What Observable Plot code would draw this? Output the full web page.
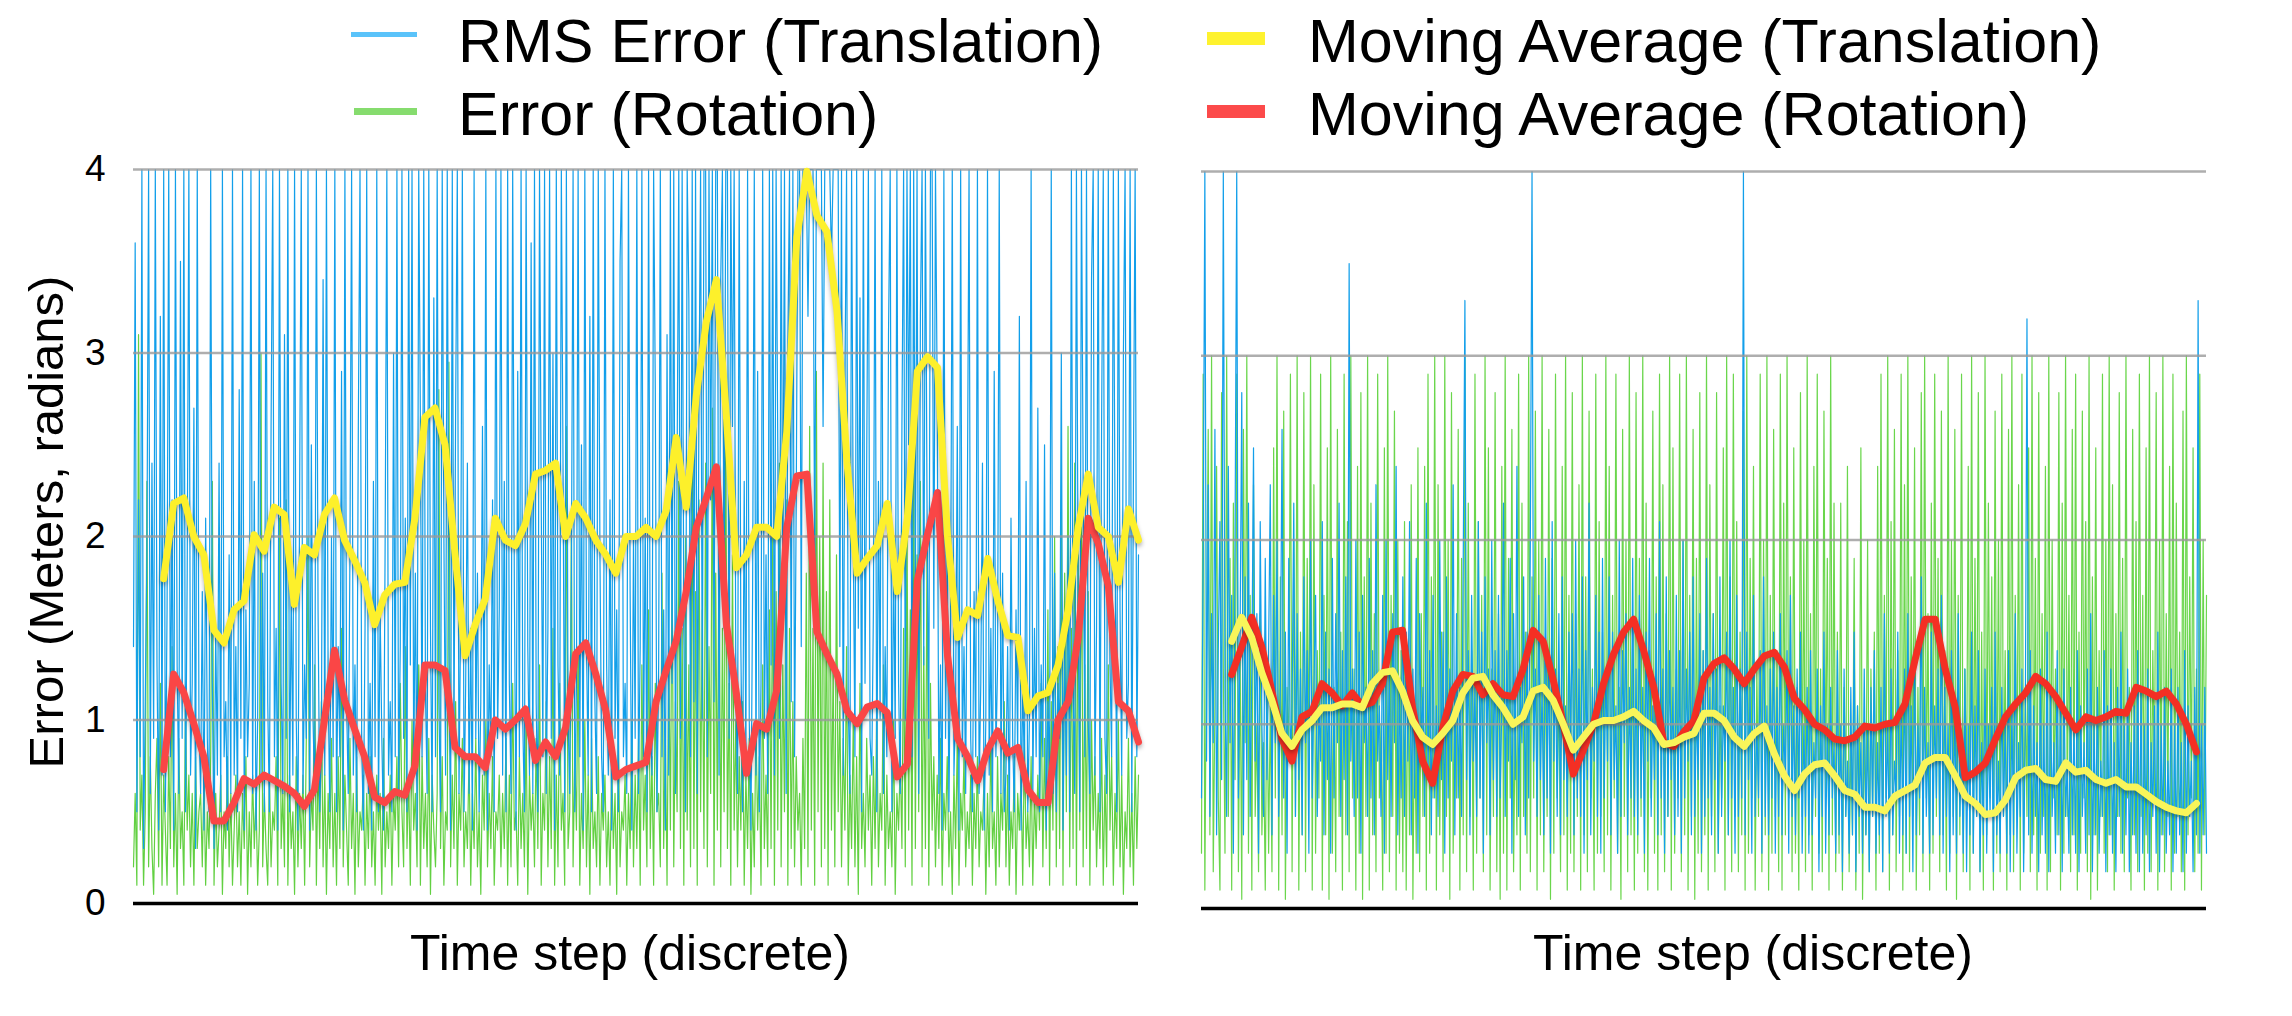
<!DOCTYPE html>
<html><head><meta charset="utf-8">
<script src="https://cdn.jsdelivr.net/npm/d3@7"></script>
<script src="https://cdn.jsdelivr.net/npm/@observablehq/plot@0.6"></script>
<style>
html,body{margin:0;padding:0;background:#fff;}
#root{position:relative;width:2292px;height:1016px;overflow:hidden;background:#fff;}
</style></head><body><div id="root"></div><script>
// ---------- DATA ----------
// Left panel: RMS translation error (blue), rotation error (green)
const transLeft = [
1.4,3.6,0.5,2.2,0.8,4,0.3,1.1,1.9,4,0.6,2.4,0.9,4,1.3,0.4,3.2,0.7,4,0.5,
1.6,4,0.8,2.2,0.4,4,1.3,0.6,3.5,0.9,4,0.5,1.8,4,0.7,1.2,2.7,0.3,4,1.0,
0.6,1.7,0.4,2.1,0.9,0.5,4,1.2,0.3,1.5,0.7,2.4,0.5,4,0.8,1.1,0.4,1.9,0.6,4,
0.7,1.4,0.5,2.8,0.9,4,0.4,1.6,0.8,1.2,4,0.6,2.3,0.4,1.0,4,0.7,1.8,0.5,4,
1.1,0.5,2.6,4,0.8,1.5,0.4,4,1.2,0.6,3.1,0.9,4,0.5,1.7,0.7,4,1.0,0.4,2.2,
4,0.6,1.3,0.9,4,0.4,2.5,1.0,0.6,4,1.6,0.5,0.9,3.4,0.7,4,1.2,0.5,2.0,0.8,
4,0.5,1.4,0.8,2.9,0.4,4,1.1,0.6,1.9,4,0.7,1.3,0.5,2.6,4,0.9,0.4,1.5,4,
0.6,1.2,0.4,2.3,0.8,4,0.5,1.6,0.9,0.4,2.0,4,0.7,1.1,0.5,3.0,0.8,4,0.6,1.4,
4,0.9,2.1,0.5,4,1.3,4,0.7,1.8,0.4,4,2.6,0.8,4,1.2,0.6,4,1.5,0.5,3.3,
0.8,4,1.1,0.5,4,2.0,0.7,4,1.4,0.4,4,0.9,2.7,4,0.6,1.6,4,0.5,1.2,2.4,
0.6,1.5,0.4,4,0.9,1.8,0.5,1.1,2.6,0.7,4,0.4,1.3,0.8,2.2,0.5,4,0.9,1.6,4,
0.7,2.3,0.5,4,1.2,0.6,4,1.7,0.4,2.9,0.8,4,1.0,0.5,4,1.4,0.7,3.6,0.6,4,
1.1,0.5,4,2.2,0.8,4,0.6,1.5,4,0.9,3.0,0.4,4,1.3,0.7,4,2.4,0.5,4,1.0,
0.6,1.8,4,0.5,1.2,4,0.8,2.5,0.4,4,1.4,0.7,3.2,0.5,4,1.1,0.6,4,1.9,0.8,
0.5,4,1.3,0.7,2.2,0.4,4,0.9,1.6,0.5,3.5,4,0.8,1.2,0.6,4,1.7,0.4,2.0,0.9,
4,0.6,1.4,4,0.8,2.1,0.5,4,1.1,0.7,4,2.8,0.5,1.3,4,0.8,1.6,0.4,3.1,0.7,
4,1.2,4,0.6,2.4,4,0.9,4,1.5,0.5,4,3.3,0.8,4,1.1,4,0.6,2.7,4,1.0,
4,4,0.8,4,2.2,4,1.1,4,4,0.7,3.4,4,1.5,4,4,0.9,4,2.6,4,1.2,
0.6,4,1.4,0.5,2.3,0.8,4,1.0,0.4,1.7,4,0.7,2.9,0.5,1.2,4,0.9,1.9,0.6,4,
1.3,4,0.7,4,2.5,0.9,4,1.6,4,0.6,3.0,4,1.1,4,0.8,2.2,4,4,1.4,4,
4,4,3.2,4,4,4,1.8,4,4,4,4,2.6,4,4,4,4,3.5,4,4,4,
4,1.4,4,0.7,2.8,4,1.1,0.6,4,2.0,0.8,4,1.5,3.3,0.5,4,1.2,2.4,4,0.9,
0.7,1.6,4,0.5,2.3,1.0,4,0.6,1.4,0.8,3.1,4,0.5,1.9,0.9,4,1.2,0.6,2.6,4,
1.0,4,2.5,4,0.8,4,1.7,4,0.6,3.2,4,1.3,4,2.1,0.9,4,4,1.5,4,2.8,
0.6,1.3,0.4,4,0.9,2.0,0.5,1.5,4,0.7,1.1,2.6,0.4,4,0.8,1.4,0.6,2.2,4,0.9,
0.5,1.7,0.8,4,0.6,1.2,2.4,0.4,1.0,4,0.7,1.5,0.5,2.9,0.8,1.3,4,0.6,1.8,0.5,
0.7,1.4,0.4,2.1,0.9,0.5,1.6,0.8,3.2,0.4,1.2,0.7,2.3,0.5,1.0,4,0.6,1.5,0.8,2.7,
0.5,1.3,0.8,2.5,0.4,1.1,0.7,4,0.6,1.8,0.5,1.2,0.9,3.0,0.4,1.4,0.7,2.0,0.5,4,
1.2,0.6,4,1.7,0.5,4,2.3,0.8,4,1.0,0.6,3.4,4,0.7,1.5,4,0.5,2.6,4,0.9,
0.6,4,1.3,0.8,4,2.1,0.5,4,1.6,0.7,3.0,4,0.9,1.2,4,0.5,2.4,4,0.8,1.9];
const rotLeft = [
0.2,0.6,0.1,3.1,0.4,0.7,0.1,0.5,2.3,0.2,0.8,0.3,0.05,0.6,0.9,0.2,1.2,0.1,0.7,0.4,
0.1,0.8,0.3,1.4,0.2,0.6,0.05,0.9,0.3,0.5,0.1,1.1,0.4,0.7,0.2,0.6,0.1,0.8,0.3,0.5,
0.6,0.2,0.7,0.1,0.5,0.3,0.8,2.3,0.1,0.6,0.2,0.4,0.7,0.05,0.5,0.3,0.8,0.2,0.6,0.1,
0.4,0.7,0.2,0.5,0.1,0.6,0.3,0.8,0.05,0.5,0.2,0.7,0.3,0.6,0.1,0.4,3.0,0.2,0.6,0.3,
0.1,0.7,0.2,0.5,0.4,0.8,0.1,2.1,0.3,0.6,0.2,2.2,0.1,0.7,0.3,0.5,0.05,0.8,0.2,0.6,
0.3,0.7,0.1,0.9,2.0,0.2,0.6,0.4,1.3,0.1,0.8,0.3,1.1,0.2,0.7,0.05,0.6,0.3,0.9,0.2,
0.6,0.1,0.8,0.3,1.5,0.2,0.7,0.4,0.1,0.9,0.3,0.6,0.05,0.8,0.2,0.5,0.4,0.7,0.1,0.6,
0.3,0.8,0.2,0.5,0.1,0.7,0.4,0.6,0.05,0.9,0.2,0.5,0.3,0.7,0.1,0.6,0.4,0.8,0.2,1.2,
0.5,0.2,1.4,0.3,0.7,0.1,1.0,0.4,0.6,0.2,1.3,0.1,0.8,0.3,0.6,0.2,0.9,0.05,0.7,0.4,
0.2,0.6,2.8,0.3,0.8,0.1,0.5,0.4,2.95,0.2,0.7,0.3,1.1,0.1,0.6,0.4,0.9,0.2,0.5,0.3,
0.8,0.1,0.6,0.3,0.9,0.2,0.5,0.05,0.7,0.4,1.0,0.2,0.6,0.3,0.8,0.1,0.5,0.4,0.7,0.2,
0.6,0.3,0.9,0.1,0.7,0.2,1.2,0.4,0.5,0.1,0.8,0.3,0.6,0.2,1.0,0.05,0.7,0.4,0.6,0.2,
0.9,0.3,1.3,0.1,0.6,0.4,1.1,0.2,0.8,0.3,1.5,0.1,0.7,0.2,1.2,0.4,0.6,0.1,2.6,0.3,
0.5,2.1,0.2,0.8,0.4,1.4,0.1,0.6,0.3,1.0,0.2,0.7,0.05,0.9,0.3,0.5,0.2,0.8,0.1,0.6,
0.4,0.7,0.2,0.5,0.1,0.8,0.3,0.6,0.05,0.9,0.2,0.5,0.4,0.7,0.1,0.6,0.3,1.0,0.2,0.7,
0.3,0.9,0.1,1.3,0.4,0.7,0.2,1.6,0.3,0.8,0.1,1.2,0.5,0.6,0.2,1.8,0.3,0.9,0.1,1.4,
0.4,1.9,0.2,1.1,0.5,2.3,0.3,1.5,0.1,2.0,0.4,1.3,0.2,2.5,0.3,1.7,0.1,2.2,0.5,1.6,
0.3,2.4,0.2,1.4,0.6,2.7,0.1,1.8,0.4,2.1,0.2,1.5,0.5,2.6,0.3,1.2,0.1,1.9,0.4,1.0,
0.2,0.8,0.4,1.1,0.1,0.7,0.3,0.9,0.05,0.6,0.2,1.0,0.4,0.8,0.1,1.3,0.3,0.7,0.2,1.6,
0.3,2.0,0.1,1.7,0.4,2.4,0.2,1.3,0.5,2.2,0.1,1.5,0.3,1.1,0.2,0.8,0.4,0.6,0.1,0.9,
0.3,1.8,0.2,2.6,0.4,1.5,0.1,2.9,0.5,2.0,0.2,2.4,0.3,1.7,0.1,2.2,0.4,1.3,0.2,1.9,
0.5,1.1,0.2,0.9,0.4,1.4,0.1,0.7,0.3,1.0,0.2,0.8,0.05,1.2,0.3,0.6,0.2,0.9,0.4,0.7,
0.1,0.8,0.3,1.1,0.2,0.6,0.4,1.3,0.1,0.7,0.3,0.5,0.2,1.0,0.05,0.6,0.4,0.8,0.3,1.5,
0.2,2.1,0.4,1.6,0.1,2.5,0.3,1.9,0.5,2.3,0.2,1.4,0.3,2.0,0.1,1.2,0.4,0.8,0.2,0.7,
0.3,0.9,0.1,0.6,0.4,0.8,0.2,0.5,0.05,0.7,0.3,0.9,0.1,0.6,0.4,0.8,0.2,0.5,0.3,0.7,
0.1,0.6,0.3,0.8,0.2,0.5,0.4,0.7,0.05,0.6,0.2,0.9,0.3,0.5,0.1,0.8,0.2,0.6,0.4,1.1,
0.2,0.7,0.1,0.5,0.3,0.8,0.05,0.6,0.4,0.7,0.1,0.9,0.3,0.5,0.2,0.8,0.1,0.6,0.3,0.7,
0.4,1.2,0.2,0.9,0.3,1.6,0.1,1.1,0.4,2.0,0.2,1.4,0.3,2.2,0.1,1.8,0.5,2.6,0.2,1.5,
0.3,2.4,0.1,1.9,0.4,2.2,0.2,1.3,0.3,1.7,0.1,1.0,0.4,0.8,0.2,0.6,0.3,0.9,0.1,0.7,
0.2,1.3,0.4,0.8,0.1,0.6,0.3,1.0,0.2,0.7,0.05,0.5,0.3,0.9,0.2,0.6,0.1,0.8,0.3,0.7];
// Right panel
const transRight = [
0.6,1.9,4,0.8,2.3,0.5,1.6,0.9,2.6,0.4,1.4,2.1,0.7,4,1.2,0.5,2.4,0.9,1.7,0.3,
2.0,4,0.6,1.5,2.8,0.4,1.8,0.7,2.2,0.5,1.3,2.5,0.8,1.6,0.3,2.1,1.0,0.5,1.9,0.7,
1.4,2.3,0.4,1.7,0.9,2.0,0.5,1.2,2.6,0.6,1.5,0.3,1.9,0.8,1.1,2.2,0.5,1.6,0.7,1.3,
0.4,1.8,0.9,1.4,0.3,2.0,0.6,1.2,1.7,0.5,1.1,0.8,2.1,0.4,1.5,0.7,1.3,0.3,1.9,0.6,
1.6,0.9,2.2,0.5,1.4,0.7,1.8,0.4,3.5,0.8,1.3,0.5,2.0,0.6,1.5,0.3,1.7,0.9,1.2,0.5,
1.9,0.6,1.4,0.4,2.3,0.8,1.1,0.5,1.7,0.3,2.0,0.7,1.3,0.5,1.6,0.9,2.4,0.4,1.2,0.6,
1.8,0.5,1.5,0.8,2.1,0.4,1.3,0.6,1.9,0.3,1.6,0.9,1.2,0.5,2.2,0.7,1.4,0.4,1.7,0.6,
1.1,0.5,2.0,0.7,1.5,0.3,1.8,0.6,1.3,0.8,2.3,0.4,1.6,0.6,1.2,0.5,1.9,3.3,0.7,1.4,
0.4,1.7,0.8,1.2,0.5,2.1,0.6,1.5,0.3,1.8,0.9,1.3,0.4,2.0,0.7,1.4,0.5,1.7,0.6,1.1,
2.2,0.5,1.4,0.8,1.9,0.3,1.6,0.7,2.4,0.5,1.2,0.9,1.8,0.4,1.5,0.6,2.0,4,0.8,1.3,
0.5,1.7,0.7,1.2,0.4,1.9,0.6,1.4,0.3,2.1,0.8,1.3,0.5,1.6,0.4,1.8,0.7,1.1,0.5,1.5,
0.9,1.6,0.4,2.0,0.6,1.3,0.5,1.8,0.3,1.4,0.7,2.2,0.4,1.2,0.8,1.7,0.5,1.5,0.3,1.9,
0.6,1.3,0.8,1.8,0.4,1.5,0.7,1.1,0.3,2.0,0.5,1.4,0.9,1.6,0.4,1.2,0.6,1.9,0.5,1.3,
0.4,1.7,0.6,1.2,0.3,1.5,0.8,1.9,0.5,1.1,0.7,1.6,0.4,2.1,0.6,1.3,0.3,1.8,0.5,1.4,
0.7,1.2,0.4,1.7,0.5,1.4,0.3,2.0,0.6,1.3,0.8,1.5,0.4,1.8,0.5,1.1,0.7,1.6,0.3,1.4,
0.5,1.9,0.6,1.2,0.4,1.6,0.7,1.3,0.3,1.8,0.5,1.1,0.8,1.5,0.4,2.0,0.6,1.2,0.3,1.7,
0.5,1.3,0.6,4,0.4,1.5,0.7,1.2,0.3,1.7,0.5,1.0,0.6,1.4,0.3,1.8,0.5,1.1,0.4,1.3,
0.6,1.5,0.3,1.2,0.5,1.6,0.4,1.0,0.7,1.4,0.3,1.7,0.5,1.1,0.4,1.3,0.6,1.5,0.3,1.0,
0.5,1.2,0.3,1.4,0.4,0.9,0.6,1.3,0.2,1.1,0.5,1.5,0.3,1.0,0.4,1.2,0.6,0.9,0.3,1.4,
0.4,1.0,0.2,1.3,0.5,0.8,0.3,1.2,0.4,1.5,0.2,1.1,0.5,0.9,0.3,1.3,0.4,1.0,0.2,1.2,
0.5,1.4,0.3,0.9,0.4,1.2,0.2,1.6,0.5,1.0,0.3,1.3,0.4,0.8,0.6,1.5,0.3,1.1,0.4,1.3,
0.3,1.6,0.5,1.1,0.2,1.4,0.4,1.0,0.6,1.8,0.3,1.2,0.5,0.9,0.3,1.5,0.4,1.1,0.6,1.3,
0.4,1.7,0.3,1.2,0.5,1.0,0.2,1.4,0.4,1.1,0.3,1.6,0.5,0.9,0.3,1.3,0.2,1.0,0.4,1.5,
0.3,1.1,0.5,1.4,0.2,0.9,0.4,1.3,0.3,1.0,0.5,1.2,0.2,1.5,0.4,0.8,0.3,1.2,0.5,1.0,
0.3,1.4,0.2,1.1,0.4,1.6,0.3,0.9,0.5,1.3,0.2,1.0,3.2,0.4,1.4,0.3,1.1,0.5,0.9,0.2,
1.3,0.4,1.0,0.3,1.5,0.2,1.2,0.5,0.9,0.3,1.4,0.4,1.1,0.2,1.3,0.5,0.8,0.3,1.2,0.4,
1.0,0.3,1.4,0.2,1.1,0.5,0.9,0.3,1.3,0.4,1.6,0.2,1.0,0.4,1.2,0.3,0.8,0.5,1.4,0.2,
1.1,0.4,1.3,0.3,0.9,0.2,1.2,0.5,1.5,0.3,1.0,0.4,1.3,0.2,0.9,0.4,1.1,0.3,1.4,0.2,
1.2,0.3,1.0,0.4,1.3,0.2,0.9,0.5,1.1,0.3,1.5,0.2,1.0,0.4,1.2,0.3,0.8,0.4,1.3,0.2,
1.0,0.3,1.2,0.4,0.9,0.2,1.4,0.3,1.1,0.5,0.8,0.2,1.2,0.4,3.3,0.3,1.0,0.4,1.2,0.3];
const rotRight = [
0.3,2.9,0.1,1.5,2.6,0.4,3.0,0.2,1.1,2.4,0.6,0.1,2.8,1.3,0.3,3.0,0.5,1.9,0.1,2.2,
0.7,2.9,0.2,1.4,0.05,2.6,0.9,3.0,0.3,1.7,0.1,2.3,0.5,1.0,0.2,1.6,0.4,0.9,0.1,1.3,
0.3,1.1,0.2,2.5,0.6,3.0,0.1,1.8,0.4,2.7,0.05,1.2,0.8,2.9,0.2,2.0,0.5,3.0,0.1,1.5,
0.4,2.8,0.2,1.9,0.7,3.0,0.1,2.3,0.3,1.4,0.6,2.9,0.1,1.7,0.4,2.5,0.05,3.0,0.3,1.2,
0.2,2.6,0.5,1.5,0.1,2.9,0.4,2.1,0.2,3.0,0.6,1.3,0.1,2.4,0.3,2.8,0.05,1.8,0.5,3.0,
0.1,2.2,0.4,1.6,0.2,2.9,0.6,1.0,0.1,2.5,0.3,3.0,0.2,1.7,0.5,2.7,0.1,2.0,0.3,1.4,
0.2,2.1,0.1,1.4,0.4,2.3,0.05,1.1,0.3,2.5,0.2,1.6,0.5,2.4,0.1,2.9,0.3,1.8,0.6,3.0,
0.1,2.3,0.4,1.5,0.2,3.0,0.5,2.0,0.05,2.8,0.3,1.2,0.6,2.6,0.1,1.9,0.4,3.0,0.2,2.2,
0.5,1.4,0.1,2.9,0.3,2.1,0.6,1.7,0.2,3.0,0.4,2.5,0.1,1.3,0.5,2.8,0.2,1.6,0.05,2.4,
0.3,3.0,0.1,1.9,0.6,2.6,0.2,1.1,0.4,2.9,0.1,2.2,0.5,1.5,0.3,3.0,0.2,1.8,0.6,2.7,
0.1,2.0,0.4,3.0,0.2,1.4,0.5,2.6,0.05,1.9,0.3,2.9,0.6,1.2,0.2,2.4,0.4,3.0,0.1,1.7,
0.3,2.8,0.2,1.6,0.5,2.3,0.1,3.0,0.4,1.8,0.2,2.7,0.6,1.3,0.1,2.9,0.3,2.1,0.5,1.5,
0.2,3.0,0.4,2.4,0.1,1.7,0.6,2.9,0.3,1.2,0.05,2.6,0.5,2.0,0.2,3.0,0.4,1.5,0.1,2.8,
0.3,1.9,0.5,3.0,0.2,2.2,0.1,1.4,0.6,2.7,0.3,1.8,0.1,2.9,0.4,2.3,0.2,1.6,0.5,3.0,
0.1,2.5,0.3,1.3,0.6,2.9,0.2,2.0,0.4,3.0,0.1,1.7,0.5,2.6,0.05,1.9,0.3,2.8,0.2,1.4,
0.4,3.0,0.1,2.3,0.5,1.6,0.2,2.8,0.3,1.1,0.6,2.5,0.1,3.0,0.4,1.8,0.2,2.9,0.5,2.1,
0.2,1.5,0.4,2.7,0.1,3.0,0.3,1.9,0.6,2.4,0.1,1.3,0.5,2.9,0.2,2.0,0.4,3.0,0.1,1.7,
0.3,2.6,0.5,1.4,0.2,2.9,0.1,2.2,0.4,3.0,0.6,1.8,0.2,2.5,0.3,1.2,0.1,2.8,0.5,2.0,
0.2,3.0,0.4,1.6,0.1,2.4,0.5,2.9,0.3,1.3,0.2,2.7,0.6,1.9,0.1,3.0,0.4,2.2,0.2,1.5,
0.3,2.2,0.1,1.2,0.5,2.4,0.2,0.9,0.4,1.9,0.1,1.1,0.3,2.5,0.05,1.0,0.4,2.0,0.2,1.3,
0.5,1.5,0.1,2.4,0.3,2.9,0.2,1.7,0.6,3.0,0.1,2.1,0.4,2.6,0.2,1.4,0.5,2.9,0.1,2.3,
0.3,3.0,0.2,1.8,0.5,2.5,0.1,1.2,0.4,2.8,0.2,3.0,0.6,1.6,0.1,2.2,0.3,2.9,0.5,1.9,
0.2,2.7,0.4,1.4,0.1,3.0,0.3,2.0,0.5,2.6,0.05,1.7,0.4,2.9,0.2,1.3,0.6,2.4,0.1,3.0,
0.3,1.9,0.5,2.8,0.2,1.5,0.1,3.0,0.4,2.2,0.6,1.8,0.1,2.7,0.3,2.0,0.2,2.9,0.5,1.4,
0.1,2.6,0.4,3.0,0.2,1.7,0.6,2.3,0.1,2.9,0.3,1.2,0.5,2.5,0.2,3.0,0.4,1.9,0.1,2.8,
0.3,1.6,0.5,2.4,0.1,3.0,0.2,2.0,0.6,1.3,0.4,2.8,0.1,2.2,0.3,3.0,0.5,1.7,0.2,2.6,
0.4,2.9,0.1,1.5,0.3,2.7,0.6,2.1,0.2,3.0,0.05,1.8,0.4,2.5,0.1,1.4,0.5,2.9,0.3,2.0,
0.2,3.0,0.4,2.3,0.1,1.6,0.5,2.8,0.3,1.9,0.2,3.0,0.6,1.2,0.1,2.6,0.4,2.1,0.2,2.9,
0.5,1.7,0.1,2.5,0.3,3.0,0.2,1.4,0.6,2.8,0.1,2.0,0.4,3.0,0.2,1.6,0.5,2.4,0.1,2.9,
0.3,2.2,0.5,1.5,0.2,2.7,0.1,3.0,0.4,1.8,0.6,2.5,0.2,1.3,0.3,2.9,0.1,2.0,0.4,1.7];

// Moving averages (time steps and values)
const maStepsLeft = d3.range(30, 1001, 10);
const maTransLeft = [
1.77,2.18,2.21,2.00,1.90,1.49,1.42,1.60,1.65,2.01,
1.92,2.16,2.12,1.63,1.94,1.90,2.12,2.21,1.98,1.87,
1.75,1.52,1.68,1.74,1.75,2.10,2.65,2.70,2.50,1.90,
1.35,1.52,1.66,2.10,1.98,1.95,2.07,2.34,2.36,2.40,
2.00,2.18,2.10,1.98,1.90,1.80,2.00,2.00,2.05,2.00,
2.14,2.54,2.16,2.77,3.17,3.40,2.65,1.83,1.90,2.05,
2.05,2.00,2.57,3.63,3.99,3.75,3.66,3.23,2.40,1.80,
1.88,1.95,2.18,1.70,2.10,2.90,2.98,2.92,2.00,1.45,
1.60,1.57,1.88,1.65,1.46,1.45,1.05,1.13,1.15,1.30,
1.60,2.05,2.34,2.05,2.00,1.75,2.15,1.98];
const maRotLeft = [
0.73,1.25,1.15,0.98,0.80,0.45,0.45,0.55,0.68,0.65,
0.70,0.67,0.64,0.60,0.53,0.62,1.00,1.38,1.11,0.95,
0.80,0.58,0.55,0.61,0.59,0.75,1.30,1.30,1.27,0.85,
0.80,0.80,0.74,1.00,0.95,1.00,1.06,0.78,0.88,0.80,
0.96,1.36,1.42,1.25,1.05,0.69,0.73,0.75,0.77,1.10,
1.27,1.43,1.70,2.05,2.21,2.38,1.52,1.14,0.71,0.98,
0.95,1.16,2.05,2.33,2.34,1.48,1.36,1.25,1.05,0.98,
1.07,1.09,1.04,0.69,0.76,1.76,2.01,2.24,1.35,0.90,
0.80,0.67,0.84,0.94,0.82,0.85,0.62,0.55,0.55,1.00,
1.10,1.45,2.10,1.96,1.73,1.10,1.05,0.88];
const maStepsRight = d3.range(30, 991, 10);
const maTransRight = [
1.45,1.58,1.47,1.28,1.13,0.95,0.88,0.97,1.02,1.09,
1.09,1.11,1.11,1.09,1.22,1.28,1.29,1.18,1.02,0.93,
0.89,0.95,1.02,1.17,1.25,1.26,1.16,1.09,1.00,1.04,
1.18,1.20,1.13,1.00,0.86,0.93,1.00,1.02,1.02,1.04,
1.07,1.02,0.98,0.89,0.90,0.93,0.95,1.06,1.06,1.02,
0.93,0.88,0.95,0.99,0.84,0.72,0.64,0.73,0.78,0.79,
0.72,0.64,0.62,0.55,0.55,0.53,0.61,0.64,0.67,0.79,
0.82,0.82,0.72,0.61,0.57,0.51,0.52,0.59,0.71,0.75,
0.76,0.70,0.69,0.79,0.74,0.75,0.70,0.68,0.70,0.66,
0.66,0.62,0.58,0.55,0.53,0.52,0.57];
const maRotRight = [
1.27,1.42,1.58,1.42,1.18,0.92,0.80,1.04,1.07,1.22,
1.17,1.10,1.17,1.10,1.12,1.22,1.50,1.51,1.09,0.80,
0.68,0.98,1.18,1.27,1.26,1.16,1.22,1.16,1.15,1.30,
1.51,1.45,1.24,1.00,0.73,0.86,1.00,1.22,1.38,1.50,
1.57,1.40,1.20,0.90,0.88,0.96,1.02,1.25,1.33,1.36,
1.30,1.22,1.30,1.37,1.39,1.31,1.14,1.08,1.00,0.97,
0.92,0.91,0.93,0.99,0.98,1.00,1.01,1.11,1.35,1.57,
1.57,1.30,1.09,0.71,0.74,0.79,0.92,1.04,1.11,1.17,
1.26,1.22,1.15,1.06,0.97,1.04,1.02,1.04,1.07,1.06,
1.20,1.18,1.15,1.18,1.11,1.00,0.85];

const yTicks = [0, 1, 2, 3, 4];
const gridValues = [1, 2, 3, 4];
const legendLabels = ["RMS Error (Translation)", "Error (Rotation)", "Moving Average (Translation)", "Moving Average (Rotation)"];
const xTitle = "Time step (discrete)";
const yTitle = "Error (Meters, radians)";

// ---------- DRAWING ----------
const FONT = '"Liberation Sans", Arial, Helvetica, sans-serif';
const root = document.getElementById("root");
const idx = (arr) => (d, i) => i * 1000 / (arr.length - 1);

function panel(o) {
  const marks = [
    Plot.line(o.rot, {x: idx(o.rot), y: d => d, stroke: o.green, strokeWidth: 1.2}),
    Plot.line(o.trans, {x: idx(o.trans), y: d => d, stroke: o.blue, strokeWidth: 1.2}),
    Plot.ruleY(gridValues, {stroke: "#9a9a9a", strokeWidth: 2.5, strokeOpacity: 0.8}),
    Plot.ruleY([0], {stroke: "#000", strokeWidth: 3.5}),
    Plot.line(o.maR, {x: (d, i) => o.steps[i], y: d => d, stroke: o.red, strokeWidth: 7}),
    Plot.line(o.maT, {x: (d, i) => o.steps[i], y: d => d, stroke: o.yellow, strokeWidth: 7})
  ];
  if (o.showY) {
    marks.push(Plot.text(yTicks, {x: 0, y: d => d, text: d => String(d), textAnchor: "end",
      dx: -28, fontSize: 37, fill: "#000", clip: false}));
  }
  const svg = Plot.plot({
    width: o.width, height: 770,
    marginLeft: o.mL, marginRight: o.mR, marginTop: o.mT, marginBottom: o.mB,
    x: {domain: [0, 1000], axis: null},
    y: {domain: [0, 4], axis: null},
    style: {fontFamily: FONT, background: "transparent", overflow: "visible", color: "#000"},
    marks
  });
  svg.style.position = "absolute";
  svg.style.left = o.left + "px";
  svg.style.top = "150px";
  svg.querySelectorAll("g").forEach(g => {
    const s = g.getAttribute("stroke");
    if (s === o.red || s === o.yellow) g.style.filter = "drop-shadow(0px 3px 2px rgba(0,0,0,0.3))";
  });
  root.appendChild(svg);
}

panel({trans: transLeft, rot: rotLeft, maT: maTransLeft, maR: maRotLeft, steps: maStepsLeft,
  blue: "#129fea", green: "#62d042", yellow: "#fdf02b", red: "#fa4646",
  left: 0, width: 1146, mL: 133, mR: 8, mT: 19, mB: 17, showY: true});
panel({trans: transRight, rot: rotRight, maT: maTransRight, maR: maRotRight, steps: maStepsRight,
  blue: "#129fea", green: "#6ad64c", yellow: "#f9f55a", red: "#f42f24",
  left: 1180, width: 1040, mL: 21, mR: 14, mT: 21, mB: 12, showY: false});

// Legend, axis titles
const ov = d3.select(root).append("svg")
  .attr("width", 2292).attr("height", 1016)
  .style("position", "absolute").style("left", "0px").style("top", "0px")
  .style("pointer-events", "none").style("font-family", FONT);

const legendItems = [
  {label: legendLabels[0], color: "#5ac3fa", sx: 351, sw: 66, sy: 32, sh: 5, tx: 458, ty: 62},
  {label: legendLabels[1], color: "#86dc6e", sx: 354, sw: 63, sy: 108, sh: 7, tx: 458, ty: 135},
  {label: legendLabels[2], color: "#fef22e", sx: 1207, sw: 58, sy: 32, sh: 13, tx: 1308, ty: 62},
  {label: legendLabels[3], color: "#fc4a4a", sx: 1207, sw: 58, sy: 105, sh: 13, tx: 1308, ty: 135}
];
legendItems.forEach(it => {
  ov.append("rect").attr("x", it.sx).attr("y", it.sy).attr("width", it.sw).attr("height", it.sh).attr("fill", it.color);
  ov.append("text").attr("x", it.tx).attr("y", it.ty).attr("font-size", 61).attr("fill", "#000").text(it.label);
});
[630, 1753].forEach(cx => {
  ov.append("text").attr("x", cx).attr("y", 970).attr("text-anchor", "middle")
    .attr("font-size", 50).attr("fill", "#000").text(xTitle);
});
ov.append("text").attr("transform", "translate(63,522) rotate(-90)").attr("text-anchor", "middle")
  .attr("font-size", 49).attr("fill", "#000").text(yTitle);
</script></body></html>
